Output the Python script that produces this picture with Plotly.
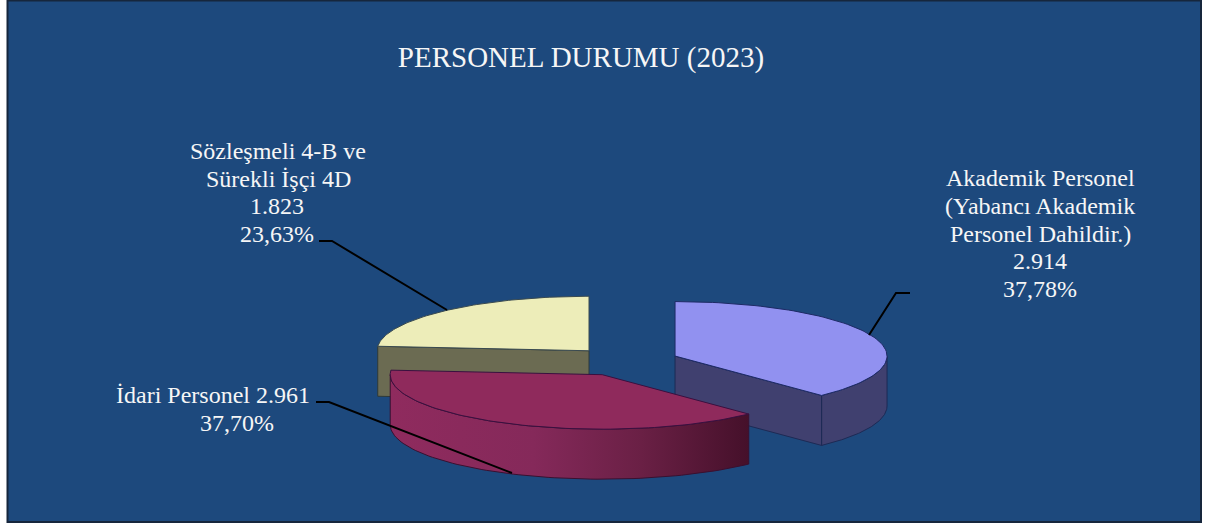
import math
import plotly.graph_objects as go

# ---- data ----
categories = ["Akademik Personel", "İdari Personel", "Sözleşmeli 4-B ve Sürekli İşçi 4D"]
values = [2914, 2961, 1823]
value_labels = ["2.914", "2.961", "1.823"]
percent_labels = ["37,78%", "37,70%", "23,63%"]

TITLE = "PERSONEL DURUMU (2023)"
BG = "#1d497d"
TEXT = "#f6f6f6"
SERIF = "Liberation Serif, Times New Roman, serif"

# ---- projection of the tilted pie ----
CX, CY = 625.3, 361.5
RX, RY = 212.0, 54.5
DEPTH = 50.0
EXPLODE_X, EXPLODE_Y = 53.6, 14.6


def arc(t1, t2, cx, cy, dy=0.0, n=80):
    xs, ys = [], []
    for i in range(n + 1):
        t = math.radians(t1 + (t2 - t1) * i / n)
        xs.append(cx + RX * math.sin(t))
        ys.append(cy - RY * math.cos(t) + dy)
    return xs, ys


def poly(fig, xs, ys, fill, line, **kw):
    fig.add_trace(go.Scatter(x=xs + xs[:1], y=ys + ys[:1], mode="lines", fill="toself",
                             fillcolor=fill, line=dict(color=line, width=1),
                             hoverinfo="skip", showlegend=False, **kw))


total = sum(values)
angles = []
start = 0.0
for v in values:
    sweep = v / total * 360.0
    mid = math.radians(start + sweep / 2)
    angles.append((start, start + sweep,
                   CX + EXPLODE_X * math.sin(mid), CY - EXPLODE_Y * math.cos(mid)))
    start += sweep

fig = go.Figure()

# back slice: Sözleşmeli
a1, a2, ax, ay = angles[2]
ex, ey = arc(a1, a1, ax, ay, n=1)
poly(fig, [ex[0], ax, ax, ex[0]], [ey[0], ay, ay + DEPTH, ey[0] + DEPTH], "#6b6b52", "#2e3a3a")
xs, ys = arc(a1, a2, ax, ay)
poly(fig, xs + [ax], ys + [ay], "#ededb9", "#3a4a50")

# right slice: Akademik
a1, a2, ax, ay = angles[0]
xs, ys = arc(90, a2, ax, ay)
xb, yb = arc(a2, 90, ax, ay, dy=DEPTH)
poly(fig, xs + xb, ys + yb, "#40406f", "#1d2a55")
ex, ey = arc(a2, a2, ax, ay, n=1)
poly(fig, [ax, ex[0], ex[0], ax], [ay, ey[0], ey[0] + DEPTH, ay + DEPTH], "#40406f", "#1d2a55")
xs, ys = arc(a1, a2, ax, ay)
poly(fig, xs + [ax], ys + [ay], "#9191f0", "#1d2a65")

# front slice: İdari
a1, a2, ax, ay = angles[1]
xs, ys = arc(a1, 270, ax, ay)
xb, yb = arc(270, a1, ax, ay, dy=DEPTH)
poly(fig, xs + xb, ys + yb, "#8a2a5a", "#3a1030",
     fillgradient=dict(type="horizontal",
                       colorscale=[[0, "#8f2b5e"], [0.4, "#85295a"], [0.7, "#6a2045"], [1, "#45102a"]]))
xs, ys = arc(a1, a2, ax, ay)
poly(fig, xs + [ax], ys + [ay], "#8f2a5c", "#3a1040")

# leader lines
leaders = [
    ([910, 896, 869], [293, 293, 335]),
    ([316, 329, 512], [402, 402, 473]),
    ([319, 332, 447], [241, 241, 310]),
]
for lx, ly in leaders:
    fig.add_trace(go.Scatter(x=lx, y=ly, mode="lines", line=dict(color="#000000", width=2),
                             hoverinfo="skip", showlegend=False))

# data labels, one entry per printed line because the reference uses tight leading
label_lines = [
    ("Akademik Personel", 1040, 178),
    ("(Yabancı Akademik", 1040, 206),
    ("Personel Dahildir.)", 1040, 233.5),
    (value_labels[0], 1040, 261),
    (percent_labels[0], 1040, 289),
    ("İdari Personel " + value_labels[1], 212.5, 395),
    (percent_labels[1], 237, 423),
    ("Sözleşmeli 4-B ve", 278, 151),
    ("Sürekli İşçi 4D", 278, 178.5),
    (value_labels[2], 277, 206),
    (percent_labels[2], 277, 233.5),
]
annotations = [dict(x=x, y=y, xref="x", yref="y", text=t, showarrow=False, align="center",
                    xanchor="center", yanchor="middle",
                    font=dict(family=SERIF, size=24, color=TEXT)) for t, x, y in label_lines]

fig.update_layout(
    width=1211, height=525, margin=dict(l=0, r=0, t=0, b=0),
    paper_bgcolor="#ffffff", plot_bgcolor="#ffffff",
    title=dict(text=TITLE, x=581 / 1211, xanchor="center", y=1 - 57 / 525, yanchor="middle",
               font=dict(family=SERIF, size=29, color=TEXT)),
    xaxis=dict(range=[0, 1211], visible=False, fixedrange=True),
    yaxis=dict(range=[525, 0], visible=False, fixedrange=True),
    annotations=annotations,
    shapes=[dict(type="rect", x0=7.5, x1=1201, y0=0.5, y1=522, layer="below",
                 fillcolor=BG, line=dict(color="#16263c", width=2))],
)

fig.write_html("out.html", config={"displayModeBar": False},
               post_script="document.body.style.margin='0';document.documentElement.style.overflow='hidden';")
